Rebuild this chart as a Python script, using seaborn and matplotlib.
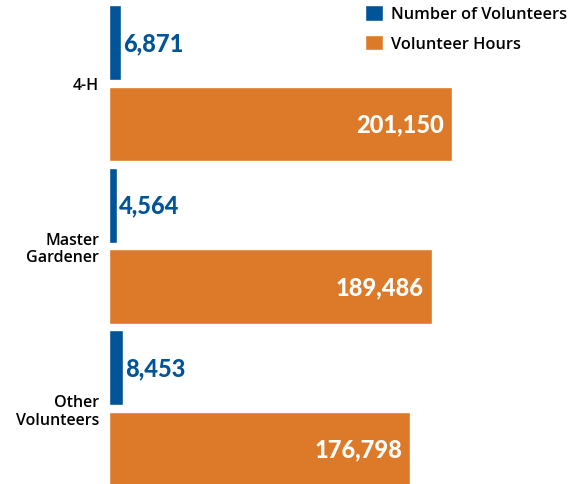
import pandas as pd
import seaborn as sns
import matplotlib.pyplot as plt

programs = ['4-H', 'Master\nGardener', 'Other\nVolunteers']
volunteers = [6871, 4564, 8453]
hours = [201150, 189486, 176798]
series = ['Number of Volunteers', 'Volunteer Hours']
colors = ['#005497', '#DC7A29']

df = pd.DataFrame({
    'program': programs * 2,
    'value': volunteers + hours,
    'series': [series[0]] * len(programs) + [series[1]] * len(programs),
})

sns.set_style('white')
plt.rcParams['font.family'] = ['Open Sans', 'DejaVu Sans']

fig = plt.figure(figsize=(5.85, 4.85), dpi=100)
ax = fig.add_axes([109 / 585, 0, 466 / 585, 1])

sns.barplot(
    data=df, x='value', y='program', hue='series',
    palette=colors, width=1.0, gap=0.08, saturation=1,
    orient='h', ax=ax,
)

ax.set_xlim(0, 273300)
ax.set_ylim(2.465, -0.52)
ax.set_xlabel('')
ax.set_ylabel('')
ax.set_xticks([])
ax.tick_params(axis='y', length=0, pad=7, labelsize=11.5, labelcolor='black')
for lbl in ax.get_yticklabels():
    lbl.set_fontweight('semibold')
    lbl.set_linespacing(1.1)
sns.despine(ax=ax, left=True, bottom=True)

# value labels
for bar in ax.containers[0]:
    ax.annotate(f'{bar.get_width():,.0f}',
                (bar.get_width(), bar.get_y() + bar.get_height() / 2),
                xytext=(1.5, 0), textcoords='offset points',
                ha='left', va='center', color=colors[0],
                fontsize=17, fontweight='black', family='Lato')
for bar in ax.containers[1]:
    ax.annotate(f'{bar.get_width():,.0f}',
                (bar.get_width(), bar.get_y() + bar.get_height() / 2),
                xytext=(-6, 0), textcoords='offset points',
                ha='right', va='center', color='white',
                fontsize=17, fontweight='black', family='Lato')

leg = ax.legend(loc='upper left', bbox_to_anchor=(365 / 585, 0.988),
                bbox_transform=fig.transFigure, frameon=False,
                fontsize=11.8, handlelength=1.1, handleheight=1.1,
                handletextpad=0.5, labelspacing=0.75, borderaxespad=0,
                borderpad=0)
for t in leg.get_texts():
    t.set_fontweight('semibold')
    t.set_color('black')

plt.savefig('out.png', dpi=100)
